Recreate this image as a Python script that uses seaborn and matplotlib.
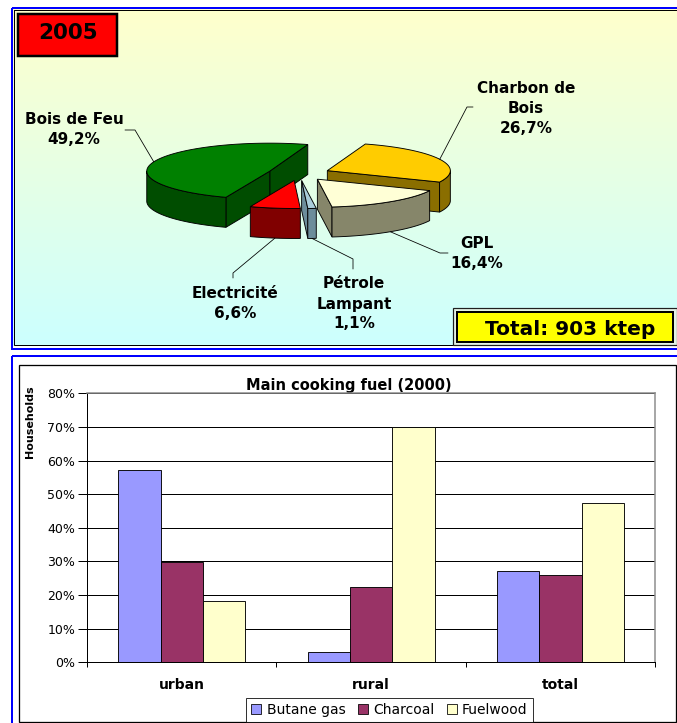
import numpy as np
import pandas as pd
import matplotlib
matplotlib.use("Agg")
import matplotlib.pyplot as plt
from matplotlib.patches import Polygon, Rectangle
import seaborn as sns

# ---- data ---------------------------------------------------------------
# 2005 household energy balance (share of consumption, %)
pie_names = ["Bois de Feu", "Electricité", "Pétrole\nLampant", "GPL", "Charbon de\nBois"]
pie_shares = [49.2, 6.6, 1.1, 16.4, 26.7]
pie_top = ["#008000", "#FF0000", "#A9CCDA", "#FFFFD6", "#FFCC00"]
pie_side = ["#004D00", "#800000", "#6C8D9B", "#86866A", "#8A6E00"]
year_label = "2005"
total_label = "Total: 903 ktep"

# Main cooking fuel by area, 2000 (share of households, %)
areas = ["urban", "rural", "total"]
fuel_names = ["Butane gas", "Charcoal", "Fuelwood"]
butane_gas = [57.1, 3.2, 27.1]
charcoal = [29.8, 22.4, 25.9]
fuelwood = [18.2, 70.0, 47.3]
fuel_colors = ["#9999FF", "#993366", "#FFFFCC"]
pct_ticks = [0, 10, 20, 30, 40, 50, 60, 70, 80]

# ---- figure -------------------------------------------------------------
W, H = 677, 723
PX = 72 / 100  # points per pixel

sns.set_style("ticks")
plt.rcParams["font.family"] = ["DejaVu Sans"]
for key in ("text.color", "axes.labelcolor", "xtick.color", "ytick.color",
            "xtick.labelcolor", "ytick.labelcolor"):
    plt.rcParams[key] = "black"

fig = plt.figure(figsize=(W / 100, H / 100), dpi=100)
bg = fig.add_axes([0, 0, 1, 1], zorder=0)
bg.axis("off")

# top panel: yellow-to-cyan gradient with a blue frame
grad = np.linspace(0, 1, 256)[:, None, None]
c_top = np.array([255, 255, 204]) / 255
c_bot = np.array([204, 255, 255]) / 255
bg.imshow(c_top * (1 - grad) + c_bot * grad, extent=(13, W + 2, 346, 9),
          aspect="auto", interpolation="bilinear", zorder=0)
bg.add_patch(Rectangle((12, 8), W + 40, 341, fill=False, ec="#0000FF", lw=2 * PX, zorder=1))
bg.add_patch(Rectangle((14, 10), W + 40, 335, fill=False, ec="black", lw=1 * PX, zorder=1))

# bottom panel frame
bg.add_patch(Rectangle((12, 356), W + 40, 400, fill=False, ec="#0000FF", lw=2 * PX, zorder=1))
bg.add_patch(Rectangle((19, 365), 657, 357, fc="white", ec="black", lw=1.3 * PX, zorder=1))

# ---- exploded 3-D pie ---------------------------------------------------
A, B, DEPTH = 123, 28, 30
EXPLODE = 31
CX, CY = 299, 173.5
START = 72


def rim(c, th, drop=0.0):
    t = np.radians(th)
    return (c[0] + A * np.cos(t), c[1] - B * np.sin(t) + drop)


def arc(c, t0, t1, drop=0.0):
    n = max(int(abs(t1 - t0)), 2) + 1
    return [rim(c, t, drop) for t in np.linspace(t0, t1, n)]


bounds = START + 360 * np.concatenate([[0], np.cumsum(pie_shares)]) / sum(pie_shares)
slices = []
for i in range(len(pie_shares)):
    t0, t1 = bounds[i], bounds[i + 1]
    mid = np.radians((t0 + t1) / 2)
    c = (CX + EXPLODE * np.cos(mid), CY - EXPLODE * (B / A) * np.sin(mid))
    slices.append((i, t0, t1, c))

lw_pie = 0.9 * PX
for i, t0, t1, c in sorted(slices, key=lambda s: s[3][1]):
    cb = (c[0], c[1] + DEPTH)
    for th, visible in ((t0, np.cos(np.radians(t0)) > 0), (t1, np.cos(np.radians(t1)) < 0)):
        if visible:
            bg.add_patch(Polygon([c, rim(c, th), rim(c, th, DEPTH), cb], closed=True,
                                 fc=pie_side[i], ec="black", lw=lw_pie, zorder=3))
    for lo, hi in ((180, 360), (540, 720)):
        a0, a1 = max(t0, lo), min(t1, hi)
        if a1 > a0:
            bg.add_patch(Polygon(arc(c, a0, a1) + arc(c, a1, a0, DEPTH), closed=True,
                                 fc=pie_side[i], ec="black", lw=lw_pie, zorder=3))
    bg.add_patch(Polygon([c] + arc(c, t0, t1), closed=True,
                         fc=pie_top[i], ec="black", lw=lw_pie, zorder=3))

# slice labels with leader lines
label_centers = [(74, 129), (235, 302.5), (354, 303), (477, 253), (526, 107.5)]
leader_bends = [[(135, 130), (125, 130)], [(233, 273), (233, 278)],
                [(353, 259), (353, 269)], [(440, 253), (448, 253)],
                [(467, 107), (473, 107)]]
for (i, t0, t1, c), (lx, ly), bends in zip(slices, label_centers, leader_bends):
    mid = (t0 + t1) / 2
    anchor = rim(c, mid) if np.sin(np.radians(mid)) > 0 else rim(c, mid, DEPTH)
    pts = [anchor] + bends
    bg.plot([p[0] for p in pts], [p[1] for p in pts], color="black", lw=0.8 * PX, zorder=4)
    pct = f"{pie_shares[i]:.1f}".replace(".", ",") + "%"
    lines = pie_names[i].split("\n") + [pct]
    n = len(lines)
    for k, line in enumerate(lines):
        y = ly + (k - (n - 1) / 2) * 20 + 5.5
        bg.text(lx, y, line, ha="center", va="baseline", fontsize=11,
                fontweight="bold", color="black", zorder=5)

# year and total boxes
bg.add_patch(Rectangle((18, 14), 99, 42, fc="#FF0000", ec="black", lw=2.5 * PX, zorder=4))
bg.text(68, 39, year_label, ha="center", va="baseline", fontsize=15.5,
        fontweight="bold", color="black", zorder=5)
bg.add_patch(Rectangle((453, 308), 224, 37, fc="#E4F2E4", ec="#202020", lw=1.2 * PX, zorder=4))
bg.add_patch(Rectangle((457, 312), 216, 30, fc="#FFFF00", ec="black", lw=2 * PX, zorder=4))
bg.text(570, 335, total_label, ha="center", va="baseline", fontsize=14.5,
        fontweight="bold", color="black", zorder=5)

# bottom chart title and y-axis caption
bg.text(349, 390, "Main cooking fuel (2000)", ha="center", va="baseline",
        fontsize=10.5, fontweight="bold", color="black", zorder=5)
bg.text(30, 422, "Households", rotation=90, ha="center", va="center",
        fontsize=8, fontweight="bold", color="black", zorder=5)

bg.set_xlim(0, W)
bg.set_ylim(H, 0)

# ---- grouped bar chart --------------------------------------------------
rows = []
for fuel, values in zip(fuel_names, [butane_gas, charcoal, fuelwood]):
    for area, v in zip(areas, values):
        rows.append({"area": area, "fuel": fuel, "share": v})
df = pd.DataFrame(rows)

x0, x1, y_top, y_bot = 87, 655.3, 393.3, 662.3
ax = fig.add_axes([x0 / W, 1 - y_bot / H, (x1 - x0) / W, (y_bot - y_top) / H], zorder=2)
sns.barplot(data=df, x="area", y="share", hue="fuel", order=areas, hue_order=fuel_names,
            palette=fuel_colors, saturation=1, width=0.67, gap=0, errorbar=None,
            edgecolor="black", linewidth=0.9 * PX, ax=ax)
ax.set_xlim(-0.5, 2.5)
ax.set_ylim(0, 80)
ax.set_xlabel("")
ax.set_ylabel("")
ax.set_facecolor("white")

ax.set_yticks(pct_ticks)
ax.set_yticklabels([f"{t}%" for t in pct_ticks], fontsize=9, color="black")
ax.tick_params(axis="y", left=True, length=6.5, width=1 * PX, pad=2, color="black")
ax.set_xticks(range(len(areas)))
ax.set_xticklabels(areas, fontsize=10, fontweight="bold", color="black")
ax.set_xticks([-0.5, 0.5, 1.5, 2.5], minor=True)
ax.tick_params(axis="x", which="major", bottom=True, length=0, pad=11.5)
ax.tick_params(axis="x", which="minor", bottom=True, length=3.6, width=1 * PX, color="black")

ax.set_axisbelow(True)
ax.yaxis.grid(True, color="black", lw=1 * PX)
ax.xaxis.grid(False)
for side in ("left", "bottom"):
    ax.spines[side].set_color("black")
    ax.spines[side].set_linewidth(1 * PX)
for side in ("top", "right"):
    ax.spines[side].set_visible(True)
    ax.spines[side].set_color("#8C8C8C")
    ax.spines[side].set_linewidth(1.5 * PX)

handles, _ = ax.get_legend_handles_labels()
if ax.get_legend() is not None:
    ax.get_legend().remove()
leg = fig.legend(handles, fuel_names, loc="lower center",
                 bbox_to_anchor=(389.5 / W, 1 - 721.5 / H), ncol=3, frameon=True,
                 fancybox=False, shadow=False, edgecolor="black", fontsize=10,
                 handlelength=0.7, handleheight=0.7, handletextpad=0.4,
                 columnspacing=0.9, borderpad=0.35, borderaxespad=0)
leg.get_frame().set_linewidth(1 * PX)
for t in leg.get_texts():
    t.set_color("black")
for h in leg.legend_handles:
    h.set_edgecolor("black")
    h.set_linewidth(0.8 * PX)

fig.savefig("out.png", dpi=100)
